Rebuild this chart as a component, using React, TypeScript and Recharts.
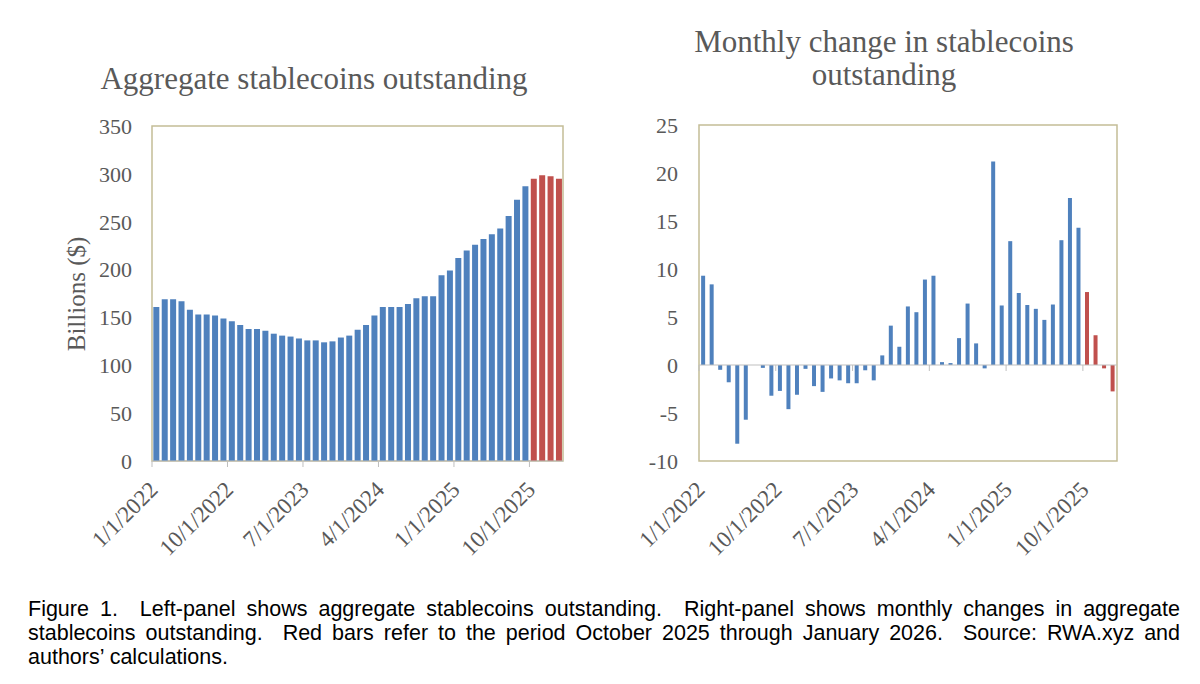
import { Bar, BarChart, Cell, ReferenceArea, ReferenceLine, XAxis, YAxis } from "recharts";

const MONTHS = [
  "1/1/2022", "2/1/2022", "3/1/2022", "4/1/2022", "5/1/2022", "6/1/2022", "7/1/2022", "8/1/2022", "9/1/2022", "10/1/2022", "11/1/2022", "12/1/2022",
  "1/1/2023", "2/1/2023", "3/1/2023", "4/1/2023", "5/1/2023", "6/1/2023", "7/1/2023", "8/1/2023", "9/1/2023", "10/1/2023", "11/1/2023", "12/1/2023",
  "1/1/2024", "2/1/2024", "3/1/2024", "4/1/2024", "5/1/2024", "6/1/2024", "7/1/2024", "8/1/2024", "9/1/2024", "10/1/2024", "11/1/2024", "12/1/2024",
  "1/1/2025", "2/1/2025", "3/1/2025", "4/1/2025", "5/1/2025", "6/1/2025", "7/1/2025", "8/1/2025", "9/1/2025", "10/1/2025", "11/1/2025", "12/1/2025",
  "1/1/2026",
];

// billions of dollars
const OUTSTANDING = [
  161, 169, 169, 167, 158, 153, 153, 152, 149, 146, 142, 138,
  138, 136, 133, 131, 130, 128, 126, 126, 124, 125, 129, 131,
  137, 142, 152, 161, 161, 161, 164, 170, 172, 172, 194, 199,
  212, 220, 226, 232, 237, 243, 256, 273, 287, 295, 298.5, 297.5,
  295,
];

// monthly change
const CHANGE = [
  9.3, 8.4, -0.5, -1.8, -8.2, -5.7, 0, -0.3, -3.2, -2.7, -4.6, -3.1,
  -0.4, -2.2, -2.8, -1.4, -1.6, -1.9, -1.9, -0.55, -1.6, 1.0, 4.1, 1.9,
  6.1, 5.5, 8.9, 9.3, 0.3, 0.2, 2.8, 6.4, 2.25, -0.35, 21.2, 6.2,
  12.9, 7.5, 6.25, 5.85, 4.7, 6.3, 13.0, 17.4, 14.3, 7.6, 3.1, -0.35,
  -2.75,
];

const TICK_LABELS = ["1/1/2022", "10/1/2022", "7/1/2023", "4/1/2024", "1/1/2025", "10/1/2025"];
const LEFT_TICKS = [0, 50, 100, 150, 200, 250, 300, 350];
const RIGHT_TICKS = [-10, -5, 0, 5, 10, 15, 20, 25];
const RED_MONTHS = ["10/1/2025", "11/1/2025", "12/1/2025", "1/1/2026"];

const data = MONTHS.map((month, i) => ({ month, outstanding: OUTSTANDING[i], change: CHANGE[i] }));

const BLUE = "#4f81bd";
const RED = "#c0504d";
const TAN = "#c4bd97";
const GREY = "#bfbfbf";
const TEXT = "#595959";
const SERIF = "'Liberation Serif', 'Times New Roman', serif";
const SANS = "'Liberation Sans', Arial, sans-serif";

// plot boxes (px inside each chart's svg)
const L = { w: 590, h: 560, left: 152, right: 563, top: 126, bottom: 461 };
const R = { x: 600, w: 540, h: 560, left: 99, right: 517, top: 125, bottom: 461 };

function makeTick(halfBand: number, tickTopShift: (y: number) => number) {
  return function DateTick(props: any) {
    const { x, y, payload } = props;
    const ax = x + 3;
    const ay = y + 30;
    const t = tickTopShift(y);
    return (
      <g>
        <line x1={x - halfBand} x2={x - halfBand} y1={t} y2={t + 6} stroke={GREY} />
        <text
          x={ax}
          y={ay}
          transform={`rotate(-45 ${ax} ${ay})`}
          textAnchor="end"
          fill={TEXT}
          fontSize={23}
          fontFamily={SERIF}
        >
          {payload.value}
        </text>
      </g>
    );
  };
}

const LeftTick = makeTick((L.right - L.left) / (2 * MONTHS.length), (y) => y);
const RightTick = makeTick(
  (R.right - R.left) / (2 * MONTHS.length),
  (y) => y - ((R.bottom - R.top) * 10) / 35
);

const yTick = { fill: TEXT, fontSize: 22, fontFamily: SERIF };
const captionLine = { lineHeight: "24px", whiteSpace: "pre-wrap" as const };

export default function App() {
  return (
    <div style={{ position: "absolute", left: 0, top: 0, width: 1200, height: 684, background: "#fff" }}>
      <div
        style={{
          position: "absolute", left: 64, width: 500, top: 62, lineHeight: "34px",
          textAlign: "center", fontFamily: SERIF, fontSize: 31, color: TEXT, whiteSpace: "nowrap",
        }}
      >
        Aggregate stablecoins outstanding
      </div>
      <div
        style={{
          position: "absolute", left: 634, width: 500, top: 25, lineHeight: "33px",
          textAlign: "center", fontFamily: SERIF, fontSize: 31, color: TEXT,
        }}
      >
        Monthly change in stablecoins
        <br />
        outstanding
      </div>
      <div
        style={{
          position: "absolute", left: 77, top: 294, width: 200, marginLeft: -100, marginTop: -16,
          lineHeight: "32px", textAlign: "center", transform: "rotate(-90deg)",
          fontFamily: SERIF, fontSize: 25, color: TEXT,
        }}
      >
        Billions ($)
      </div>

      <div style={{ position: "absolute", left: 0, top: 0 }}>
        <BarChart
          width={L.w}
          height={L.h}
          data={data}
          barCategoryGap="16%"
          margin={{ top: L.top, right: L.w - L.right, bottom: 0, left: 0 }}
        >
          <ReferenceArea y1={0} y2={350} fill="none" stroke={TAN} strokeWidth={1.5} />
          <XAxis
            dataKey="month"
            ticks={TICK_LABELS}
            interval={0}
            height={L.h - L.bottom}
            tickSize={0}
            tickMargin={0}
            tickLine={false}
            axisLine={{ stroke: GREY }}
            tick={<LeftTick />}
          />
          <YAxis
            width={L.left}
            domain={[0, 350]}
            ticks={LEFT_TICKS}
            interval={0}
            axisLine={false}
            tickLine={false}
            tickSize={0}
            tickMargin={20}
            tick={yTick}
          />
          <Bar dataKey="outstanding" isAnimationActive={false}>
            {data.map((d) => (
              <Cell key={d.month} fill={RED_MONTHS.includes(d.month) ? RED : BLUE} />
            ))}
          </Bar>
        </BarChart>
      </div>

      <div style={{ position: "absolute", left: R.x, top: 0 }}>
        <BarChart
          width={R.w}
          height={R.h}
          data={data}
          barCategoryGap="25%"
          margin={{ top: R.top, right: R.w - R.right, bottom: 0, left: 0 }}
        >
          <ReferenceArea y1={-10} y2={25} fill="none" stroke={TAN} strokeWidth={1.5} />
          <ReferenceLine y={0} stroke={GREY} />
          <XAxis
            dataKey="month"
            ticks={TICK_LABELS}
            interval={0}
            height={R.h - R.bottom}
            tickSize={0}
            tickMargin={0}
            tickLine={false}
            axisLine={false}
            tick={<RightTick />}
          />
          <YAxis
            width={R.left}
            domain={[-10, 25]}
            ticks={RIGHT_TICKS}
            interval={0}
            axisLine={false}
            tickLine={false}
            tickSize={0}
            tickMargin={21}
            tick={yTick}
          />
          <Bar dataKey="change" isAnimationActive={false}>
            {data.map((d) => (
              <Cell key={d.month} fill={RED_MONTHS.includes(d.month) ? RED : BLUE} />
            ))}
          </Bar>
        </BarChart>
      </div>

      <div style={{ position: "absolute", left: 28, width: 1152, top: 597, fontFamily: SANS, fontSize: 21.5, color: "#000" }}>
        <div style={{ ...captionLine, textAlign: "justify", textAlignLast: "justify" }}>
          {"Figure 1.  Left-panel shows aggregate stablecoins outstanding.  Right-panel shows monthly changes in aggregate"}
        </div>
        <div style={{ ...captionLine, textAlign: "justify", textAlignLast: "justify" }}>
          {"stablecoins outstanding.  Red bars refer to the period October 2025 through January 2026.  Source: RWA.xyz and"}
        </div>
        <div style={captionLine}>{"authors\u2019 calculations."}</div>
      </div>
    </div>
  );
}
